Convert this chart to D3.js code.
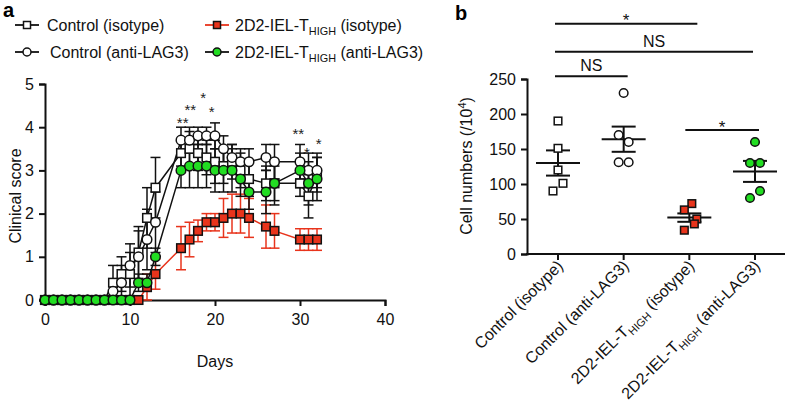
<!DOCTYPE html>
<html><head><meta charset="utf-8">
<script src="https://cdn.jsdelivr.net/npm/d3@7"></script>
<style>body{margin:0;background:#fff}svg{font-family:"Liberation Sans",Arial,sans-serif}</style>
</head><body><svg id="c" width="788" height="413"></svg>
<script>
// ---------- Panel a data ----------
const seriesNames = ["Control (isotype)","Control (anti-LAG3)","2D2-IEL-T|HIGH| (isotype)","2D2-IEL-T|HIGH| (anti-LAG3)"];
const daysEarly = [0,1,2,3,4,5,6,7,8,9,10,11,12,13,16,17,18,19,20,21,22,23,24,26,27,30,31,32];
const ctrlIsoMean = [0,0,0,0,0,0,0,0,0.4,0.6,0.6,1.1,1.9,2.6,3.4,3.5,3.4,3.3,3.2,3.1,3.2,3.0,2.8,2.7,2.7,2.7,2.4,2.9];
const ctrlIsoErr  = [0,0,0,0,0,0,0,0,0.4,0.4,0.5,0.6,0.7,0.7,0.3,0.4,0.4,0.4,0.5,0.4,0.4,0.4,0.4,0.4,0.4,0.3,0.5,0.4];
const ctrlLagMean = [0,0,0,0,0,0,0,0,0.2,0.4,0.8,1.0,1.4,1.8,3.7,3.7,3.8,3.8,3.8,3.5,3.3,3.2,3.2,3.3,3.2,3.2,3.0,3.0];
const ctrlLagErr  = [0,0,0,0,0,0,0,0,0.2,0.4,0.5,0.6,0.7,0.7,0.3,0.3,0.2,0.2,0.3,0.3,0.3,0.3,0.3,0.3,0.4,0.4,0.4,0.4];
const daysHighIso = [0,1,2,3,4,5,6,7,8,9,10,11,12,13,16,17,18,19,20,21,22,23,24,26,27,30,31,32];
const highIsoMean = [0,0,0,0,0,0,0,0,0,0,0,0,0.3,0.6,1.2,1.4,1.6,1.8,1.8,1.9,2.0,2.0,1.9,1.7,1.6,1.4,1.4,1.4];
const highIsoErr  = [0,0,0,0,0,0,0,0,0,0,0,0,0.3,0.35,0.5,0.4,0.25,0.2,0.2,0.45,0.45,0.45,0.45,0.5,0.4,0.25,0.25,0.25];
const highLagMean = [0,0,0,0,0,0,0,0,0,0,0,0.4,0.4,1.0,3.0,3.1,3.1,3.1,3.0,3.0,3.0,2.8,2.5,2.5,2.7,3.0,2.7,2.8];
const highLagErr  = [0,0,0,0,0,0,0,0,0,0,0,0.2,0.2,0.2,0.4,0.5,0.5,0.5,0.5,0.5,0.5,0.4,0.4,0.5,0.5,0.4,0.5,0.5];
const starLabels = ["**","**","*","*","**","*","*"];
const starDays   = [16.2,17.1,18.6,19.6,29.8,30.8,32.2];
const starScores = [4.17,4.47,4.74,4.42,3.91,3.47,3.68];
const xTicksA = [0,10,20,30,40];
const yTicksA = [0,1,2,3,4,5];

// ---------- Panel b data ----------
const groups = ["Control (isotype)","Control (anti-LAG3)","2D2-IEL-T|HIGH| (isotype)","2D2-IEL-T|HIGH| (anti-LAG3)"];
const cellPoints = [[190,151,120,101,90],[230,170,160,131,131],[72,63,50,43,34],[160,130,130,90,80]];
const cellJitter = [[0,0,0,1,-1],[0,-1,1,-1,1],[0.5,-1,1.5,1,-1],[0,-1,1,1,-1]];
const cellMean = [130,164,52,118];
const cellSem = [18,18,6,15];
const yTicksB = [0,50,100,150,200,250];
const sigLabels = ["*","NS","NS","*"];
const sigFrom = [0,0,0,2];
const sigTo = [2,3,1,3];
const sigLevel = [329,289,254,177];

const RED = "#e8341c", GREEN = "#22dd22";
const FS = 16;
const svg = d3.select("#c");

function richText(sel, str, size) {
  const parts = str.split("|");
  parts.forEach((p,i)=>{
    if(!p) return;
    if(i%2===1){
      sel.append("tspan").attr("font-size", size*0.68).attr("dy", size*0.28).text(p);
    } else {
      const t = sel.append("tspan").text(p);
      if(i>0) t.attr("dy", -size*0.28);
    }
  });
}
function styleAxis(g){
  g.selectAll("text").attr("font-size",FS).attr("font-family","Liberation Sans, Arial").attr("fill","#111");
  g.selectAll("line,path").attr("stroke","#111").attr("stroke-width",2);
}

// ---------- Panel a ----------
const xA = d3.scaleLinear().domain([0,40]).range([45,385]);
const yA = d3.scaleLinear().domain([0,5]).range([300,84]);
const gA = svg.append("g");
gA.append("g").attr("transform","translate(0,300)")
  .call(d3.axisBottom(xA).tickValues(xTicksA).tickSize(6).tickPadding(8).tickFormat(d3.format("d")))
  .call(styleAxis);
gA.append("g").attr("transform","translate(45,0)")
  .call(d3.axisLeft(yA).tickValues(yTicksA).tickSize(6).tickPadding(5).tickFormat(d3.format("d")))
  .call(styleAxis);
gA.append("text").attr("x",215).attr("y",367).attr("text-anchor","middle").attr("font-size",FS).attr("fill","#111").text("Days");
gA.append("text").attr("transform","translate(21,196) rotate(-90)").attr("text-anchor","middle").attr("font-size",FS).attr("fill","#111").text("Clinical score");

const seriesA = [
  {days:daysEarly, m:ctrlIsoMean, e:ctrlIsoErr, shape:"square", fill:"#fff", line:"#111", err:"#111"},
  {days:daysEarly, m:ctrlLagMean, e:ctrlLagErr, shape:"circle", fill:"#fff", line:"#111", err:"#111"},
  {days:daysHighIso, m:highIsoMean, e:highIsoErr, shape:"square", fill:RED, line:RED, err:RED},
  {days:daysEarly, m:highLagMean, e:highLagErr, shape:"circle", fill:GREEN, line:"#111", err:"#111"}
];
function marker(g, shape, x, y, fill, sz){
  if(shape==="square") g.append("rect").attr("x",x-sz).attr("y",y-sz).attr("width",2*sz).attr("height",2*sz).attr("fill",fill).attr("stroke","#111").attr("stroke-width",1.5);
  else g.append("circle").attr("cx",x).attr("cy",y).attr("r",sz+0.5).attr("fill",fill).attr("stroke","#111").attr("stroke-width",1.5);
}
seriesA.forEach(s=>{
  const g = gA.append("g");
  const pts = s.days.map((d,i)=>({d, m:s.m[i], e:s.e[i]}));
  pts.forEach(p=>{
    if(p.e<=0) return;
    const x = xA(p.d);
    g.append("line").attr("x1",x).attr("x2",x).attr("y1",yA(p.m-p.e)).attr("y2",yA(p.m+p.e)).attr("stroke",s.err).attr("stroke-width",1.5);
    [p.m-p.e,p.m+p.e].forEach(v=>g.append("line").attr("x1",x-5).attr("x2",x+5).attr("y1",yA(v)).attr("y2",yA(v)).attr("stroke",s.err).attr("stroke-width",1.5));
  });
  g.append("path").datum(pts).attr("fill","none").attr("stroke",s.line).attr("stroke-width",1.5)
    .attr("d",d3.line().x(p=>xA(p.d)).y(p=>yA(p.m)));
});
seriesA.forEach(s=>{
  const g = gA.append("g");
  s.days.forEach((d,i)=>marker(g,s.shape,xA(d),yA(s.m[i]),s.fill,4.3));
});
starLabels.forEach((t,i)=>{
  gA.append("text").attr("x",xA(starDays[i])).attr("y",yA(starScores[i])+8).attr("text-anchor","middle")
    .attr("font-size",15).attr("fill","#222").text(t);
});

// legend
const legA = gA.append("g");
const legPos = [[15,25,47],[15,52,50],[205,25,235],[205,52,235]];
seriesA.forEach((s,i)=>{
  const [lx,ly,tx] = legPos[i];
  legA.append("line").attr("x1",lx).attr("x2",lx+24).attr("y1",ly).attr("y2",ly).attr("stroke",s.line).attr("stroke-width",1.8);
  marker(legA,s.shape,lx+12,ly,s.fill,3.5);
  const t = legA.append("text").attr("x",tx).attr("y",ly+6).attr("font-size",FS).attr("fill","#111");
  richText(t, seriesNames[i], FS);
});
svg.append("text").attr("x",3).attr("y",17).attr("font-size",20).attr("font-weight","bold").text("a");
svg.append("text").attr("x",455).attr("y",20).attr("font-size",20).attr("font-weight","bold").text("b");

// ---------- Panel b ----------
const xB = d3.scalePoint().domain(groups).range([558,755]);
const yB = d3.scaleLinear().domain([0,250]).range([254,79]);
const gB = svg.append("g");
gB.append("g").attr("transform","translate(527,0)")
  .call(d3.axisLeft(yB).tickValues(yTicksB).tickSize(6).tickPadding(5))
  .call(styleAxis);
const xAxB = gB.append("g");
xAxB.append("line").attr("x1",526).attr("x2",785).attr("y1",254).attr("y2",254).attr("stroke","#111").attr("stroke-width",2);
groups.forEach((gname,i)=>{
  const x = xB(gname);
  xAxB.append("line").attr("x1",x).attr("x2",x).attr("y1",254).attr("y2",260).attr("stroke","#111").attr("stroke-width",2);
  const t = xAxB.append("text").attr("transform",`translate(${x+6},${267}) rotate(-45)`).attr("text-anchor","end").attr("font-size",FS).attr("fill","#111");
  richText(t, gname, FS);
});
const yt = gB.append("text").attr("transform","translate(472,166) rotate(-90)").attr("text-anchor","middle").attr("font-size",FS).attr("fill","#111");
yt.append("tspan").text("Cell numbers (/10");
yt.append("tspan").attr("font-size",11).attr("dy",-6).text("4");
yt.append("tspan").attr("dy",6).text(")");

const shapesB = ["square","circle","square","circle"];
const fillsB = ["#fff","#fff",RED,GREEN];
groups.forEach((gname,i)=>{
  const cx = xB(gname);
  gB.append("line").attr("x1",cx-22).attr("x2",cx+22).attr("y1",yB(cellMean[i])).attr("y2",yB(cellMean[i])).attr("stroke","#111").attr("stroke-width",2);
  gB.append("line").attr("x1",cx).attr("x2",cx).attr("y1",yB(cellMean[i]-cellSem[i])).attr("y2",yB(cellMean[i]+cellSem[i])).attr("stroke","#111").attr("stroke-width",2);
  [cellMean[i]-cellSem[i],cellMean[i]+cellSem[i]].forEach(v=>gB.append("line").attr("x1",cx-12).attr("x2",cx+12).attr("y1",yB(v)).attr("y2",yB(v)).attr("stroke","#111").attr("stroke-width",2));
  cellPoints[i].forEach((v,j)=>marker(gB,shapesB[i],cx+cellJitter[i][j]*5,yB(v),fillsB[i],3.8));
});
sigLabels.forEach((t,i)=>{
  const x1 = xB(groups[sigFrom[i]]) - (i===3?4:3), x2 = xB(groups[sigTo[i]]) + (i===1?-2:(i===0?8:4));
  const y = yB(sigLevel[i]);
  gB.append("line").attr("x1",x1).attr("x2",x2).attr("y1",y).attr("y2",y).attr("stroke","#111").attr("stroke-width",2);
  gB.append("text").attr("x",(x1+x2)/2).attr("y",t==="*"?y+2.5:y-5).attr("text-anchor","middle").attr("font-size",t==="*"?17:FS).attr("fill","#111").text(t);
});
</script></body></html>
